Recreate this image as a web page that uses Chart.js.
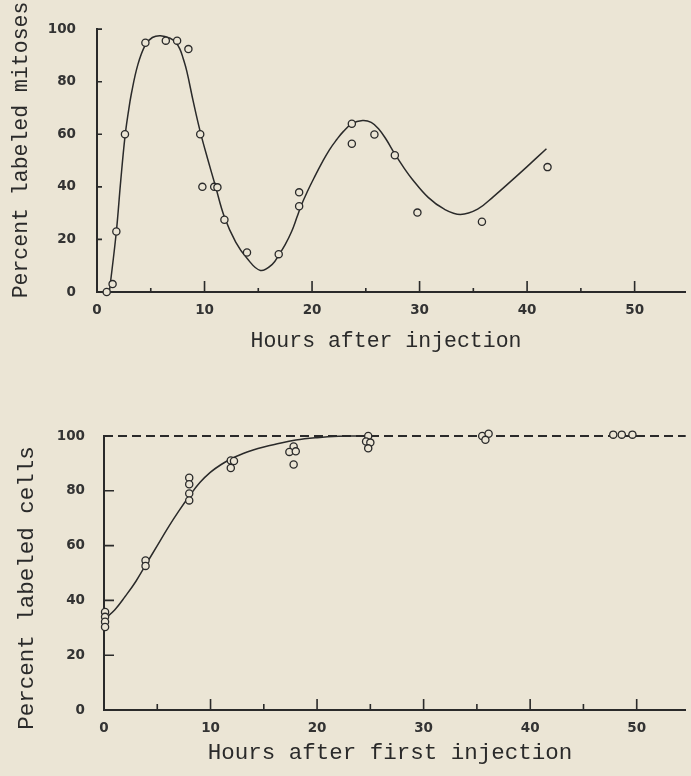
<!DOCTYPE html>
<html>
<head>
<meta charset="utf-8">
<script src="https://cdn.jsdelivr.net/npm/chart.js@4.4.1/dist/chart.umd.min.js"></script>
<style>
  html, body { margin: 0; padding: 0; background: #ebe5d5; }
  #wrap { position: relative; width: 691px; height: 776px; overflow: hidden; }
  canvas { position: absolute; left: 0; }
  #mitoses { top: 0; }
  #cells { top: 380px; }
</style>
</head>
<body>
<div id="wrap">
  <canvas id="mitoses" width="691" height="360"></canvas>
  <canvas id="cells" width="691" height="396"></canvas>
</div>
<script>
// percent labeled mitoses, single injection
const mitosisHours   = [0.9, 1.45, 1.8, 2.6, 4.5, 6.4, 7.45, 8.5, 9.6, 9.8, 10.9, 11.2, 11.85, 13.95, 16.9, 18.8, 18.8, 23.7, 23.7, 25.8, 27.7, 29.8, 35.8, 41.9];
const mitosisPercent = [0, 3, 23, 60, 94.8, 95.6, 95.6, 92.4, 60, 40, 40, 39.8, 27.5, 15, 14.4, 37.9, 32.6, 64, 56.4, 59.9, 52, 30.2, 26.7, 47.5];

// hand-drawn curve through the mitoses
const mitosisFitHours   = [1.15, 1.8, 2.2, 2.6, 2.9, 3.2, 3.8, 4.5, 5.15, 5.9, 6.8, 7.3, 7.7, 8.0, 8.35, 8.95, 9.6, 10.3, 11, 11.85, 12.9, 13.95, 15.2, 16.3, 16.9, 17.5, 18.1, 18.6, 19.0, 19.6, 20.2, 20.9, 21.6, 22.3, 22.9, 23.7, 24.7, 25.5, 26.2, 26.9, 27.7, 28.5, 29.3, 30.8, 32.3, 33.8, 35.4, 36.9, 38.4, 40, 41.8];
const mitosisFitPercent = [0, 23, 42, 59, 68, 75.5, 86.5, 94, 96.8, 97.5, 96.5, 95, 92.5, 89, 84, 72.5, 61, 50.5, 40.5, 28.5, 19, 12.8, 8.2, 10.5, 14, 18, 23, 28.5, 33, 38.5, 43.5, 49, 54, 58, 61, 64, 65.2, 64.5, 62, 58, 52.5, 47.5, 43, 36, 31.5, 29.5, 31.5, 36.4, 41.8, 47.7, 54.5];

// percent labeled cells, repeated injections
const cellHours   = [0.1, 0.1, 0.1, 0.1, 3.9, 3.9, 8.0, 8.0, 8.0, 8.0, 11.9, 12.2, 11.9, 17.8, 17.4, 18.0, 17.8, 24.8, 24.6, 25.0, 24.8, 35.5, 36.1, 35.8, 47.8, 48.6, 49.6];
const cellPercent = [35.8, 34, 32.2, 30.3, 54.6, 52.6, 84.8, 82.4, 79, 76.5, 91.1, 90.9, 88.3, 96.2, 94.2, 94.4, 89.6, 100, 98, 97.6, 95.5, 100, 100.8, 98.6, 100.5, 100.5, 100.5];

const cellFitHours   = [0, 1, 2, 3, 4, 5, 6, 7, 8, 9, 10, 11, 12, 13, 14, 15, 16, 18, 20, 22, 24];
const cellFitPercent = [33, 36.5, 41.5, 47, 53.5, 60, 66.5, 72.5, 78, 83, 86.8, 89.6, 91.8, 93.5, 94.9, 96, 96.9, 98.5, 99.4, 99.9, 100];

const plateauHours   = [0, 54.6];
const plateauPercent = [100, 100];

const hourTicks      = [0, 10, 20, 30, 40, 50];
const hourMinorTicks = [5, 15, 25, 35, 45];
const percentTicks   = [0, 20, 40, 60, 80, 100];

const ink = '#2a2a2a';
const paper = '#ebe5d5';
const digitFont = { family: '"DejaVu Sans"', size: 13.5, weight: 'bold' };

const pts = (xs, ys) => xs.map((x, i) => ({ x, y: ys[i] }));

// inward tick marks and the typed axis captions
const axisDecor = {
  id: 'axisDecor',
  afterDraw(chart, args, o) {
    const { ctx, scales: { x, y } } = chart;
    const base = y.getPixelForValue(0);
    const left = x.getPixelForValue(0);
    ctx.save();
    ctx.strokeStyle = ink;
    ctx.lineWidth = 1.6;
    ctx.beginPath();
    o.xMajor.forEach(v => {
      const px = x.getPixelForValue(v);
      ctx.moveTo(px, base); ctx.lineTo(px, base - o.majorLen);
    });
    o.xMinor.forEach(v => {
      const px = x.getPixelForValue(v);
      ctx.moveTo(px, base); ctx.lineTo(px, base - o.minorLen);
    });
    o.yMarks.forEach(v => {
      const py = y.getPixelForValue(v);
      ctx.moveTo(left, py); ctx.lineTo(left + o.yLen, py);
    });
    ctx.stroke();

    ctx.fillStyle = ink;
    ctx.textAlign = 'center';
    ctx.textBaseline = 'alphabetic';
    ctx.font = o.xTitle.size + 'px "Liberation Mono"';
    ctx.fillText(o.xTitle.text, o.xTitle.x, o.xTitle.y);
    ctx.translate(o.yTitle.x, o.yTitle.y);
    ctx.rotate(-Math.PI / 2);
    ctx.font = o.yTitle.size + 'px "Liberation Mono"';
    ctx.fillText(o.yTitle.text, 0, 0);
    ctx.restore();
  }
};

function makeChart(id, cfg) {
  return new Chart(document.getElementById(id), {
    type: 'line',
    data: { datasets: cfg.datasets },
    options: {
      responsive: false,
      devicePixelRatio: 1,
      animation: false,
      layout: { padding: { top: cfg.padTop, left: 0, right: 0, bottom: 0 } },
      plugins: { legend: { display: false }, tooltip: { enabled: false }, axisDecor: cfg.decor },
      scales: {
        x: {
          type: 'linear', min: 0, max: cfg.xMax,
          afterBuildTicks: s => { s.ticks = hourTicks.map(v => ({ value: v })); },
          afterFit: s => { s.height = cfg.xHeight; },
          grid: { display: false, drawTicks: false },
          border: { display: true, color: ink, width: 2 },
          ticks: { padding: 10, color: '#333', font: digitFont, maxRotation: 0 }
        },
        y: {
          type: 'linear', min: 0, max: 100,
          afterBuildTicks: s => { s.ticks = percentTicks.map(v => ({ value: v })); },
          afterFit: s => { s.width = cfg.yWidth; },
          grid: { display: false, drawTicks: false },
          border: { display: true, color: ink, width: 2 },
          ticks: { padding: cfg.yPad, color: '#333', font: digitFont }
        }
      }
    },
    plugins: [axisDecor]
  });
}

const markerStyle = {
  showLine: false, pointRadius: 3.6, pointBorderWidth: 1.3,
  pointBorderColor: ink, pointBackgroundColor: paper, clip: false
};
const curveStyle = {
  borderColor: ink, borderWidth: 1.5, pointRadius: 0,
  tension: 0.4, fill: false, clip: false
};

makeChart('mitoses', {
  padTop: 12, xHeight: 68, yWidth: 97, yPad: 21, xMax: 54.75,
  datasets: [
    { data: pts(mitosisHours, mitosisPercent), ...markerStyle },
    { data: pts(mitosisFitHours, mitosisFitPercent), ...curveStyle }
  ],
  decor: {
    xMajor: hourTicks.slice(1), xMinor: hourMinorTicks, majorLen: 11, minorLen: 4,
    yMarks: percentTicks.slice(1), yLen: 5,
    xTitle: { text: 'Hours after injection', x: 386, y: 347, size: 21.5 },
    yTitle: { text: 'Percent labeled mitoses', x: 27, y: 150, size: 21.5 }
  }
});

makeChart('cells', {
  padTop: 56, xHeight: 66, yWidth: 104, yPad: 19, xMax: 54.6,
  datasets: [
    { data: pts(cellHours, cellPercent), ...markerStyle },
    { data: pts(cellFitHours, cellFitPercent), ...curveStyle },
    { data: pts(plateauHours, plateauPercent), borderColor: ink, borderWidth: 2,
      borderDash: [9, 5], pointRadius: 0, fill: false, clip: false }
  ],
  decor: {
    xMajor: hourTicks.slice(1), xMinor: hourMinorTicks, majorLen: 11, minorLen: 6,
    yMarks: percentTicks.slice(1, -1), yLen: 10,
    xTitle: { text: 'Hours after first injection', x: 390, y: 379, size: 22.5 },
    yTitle: { text: 'Percent labeled cells', x: 33, y: 208, size: 22.5 }
  }
});
</script>
</body>
</html>
